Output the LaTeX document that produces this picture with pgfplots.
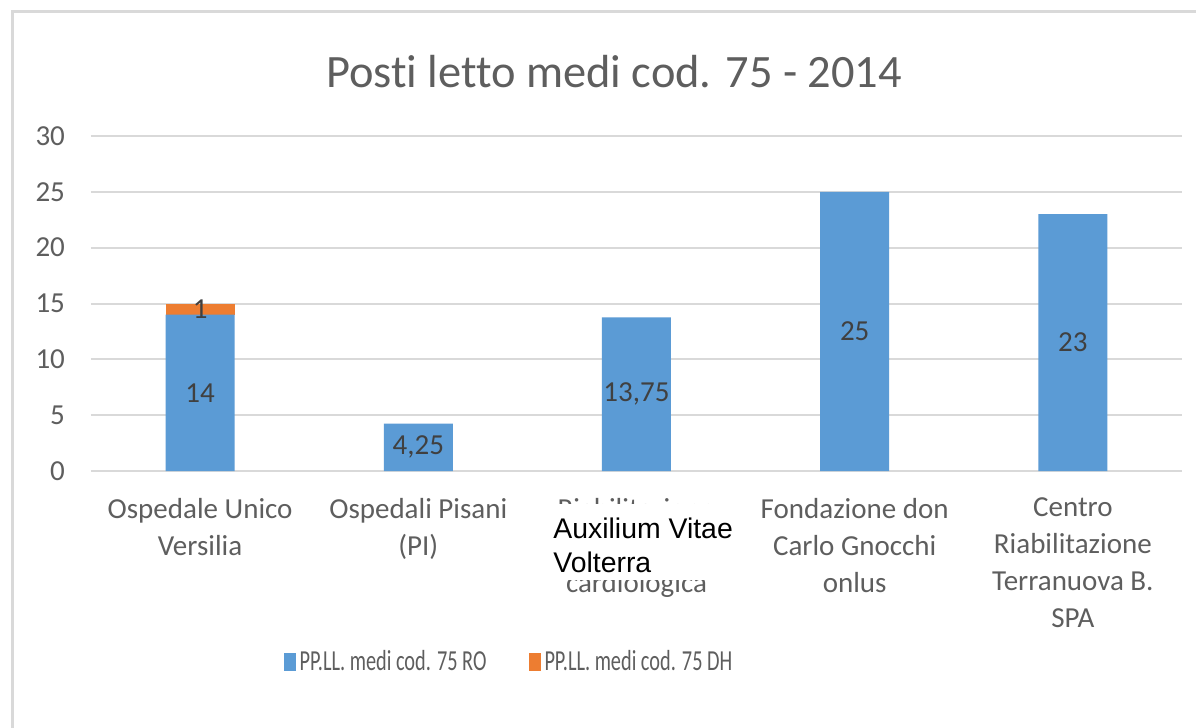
\documentclass[border=0pt]{standalone}
\usepackage{pgfplots}
\pgfplotsset{compat=1.18}
\usepackage{fontspec}
\setmainfont{Carlito}[Ligatures=NoCommon]
\newfontfamily\arial{Liberation Sans}
\definecolor{cblue}{HTML}{5B9BD5}
\definecolor{corange}{HTML}{ED7D31}
\definecolor{cgrid}{HTML}{D9D9D9}
\definecolor{ctext}{HTML}{5E5E5E}
\definecolor{clab}{HTML}{404040}
\begin{document}
\begin{tikzpicture}
\useasboundingbox (0,0) rectangle (598pt,-364pt);
\fill[white] (0,0) rectangle (598pt,-364pt);
\draw[cgrid, line width=1.5pt] (6pt,-370pt) -- (6pt,-5.5pt) -- (600pt,-5.5pt);
\begin{axis}[
  at={(45.5pt,-235.5pt)}, anchor=south west,
  scale only axis, width=545.5pt, height=167.5pt,
  xmin=-0.5, xmax=4.5, ymin=0, ymax=30,
  ytick={0,5,...,30},
  xtick={0,1,2,3,4},
  xticklabels={{Ospedale Unico\\Versilia},{Ospedali Pisani\\(PI)},{Riabilitazione\\\mbox{}\\cardiologica},{Fondazione don\\Carlo Gnocchi\\onlus},{Centro\\Riabilitazione\\Terranuova B.\\SPA}},
  /pgf/number format/assume math mode=true,
  axis line style={draw=none},
  major tick length=0pt,
  ymajorgrids, grid style={cgrid, line width=1pt},
  ytick style={draw=none}, xtick style={draw=none},
  yticklabel style={font=\fontsize{14.5}{17}\selectfont, text=ctext, anchor=east, xshift=-9.5pt},
  xticklabel style={font=\fontsize{14.5}{18.5}\selectfont, text=ctext, align=center, anchor=north, yshift=-10pt},
  ybar stacked, bar width=34.5pt,
  legend style={at={(0.384,-0.570)}, anchor=center, draw=none, fill=none, legend columns=2,
    /tikz/every even column/.append style={column sep=19pt},
    font=\fontsize{14.5}{17}\selectfont, text=ctext},
  legend image code/.code={\fill[#1] (0pt,-4.5pt) rectangle (6pt,4.5pt);},
]
\addplot[fill=cblue, draw=none] coordinates {(0,14) (1,4.25) (2,13.75) (3,25) (4,23)};
\addlegendentry{\scalebox{0.7}[1]{PP.LL. medi cod. 75 RO}}
\addplot[fill=corange, draw=none] coordinates {(0,1) (1,0) (2,0) (3,0) (4,0)};
\addlegendentry{\scalebox{0.7}[1]{PP.LL. medi cod. 75 DH}}
\end{axis}
\begin{axis}[
  at={(45.5pt,-235.5pt)}, anchor=south west,
  scale only axis, width=545.5pt, height=167.5pt,
  xmin=-0.5, xmax=4.5, ymin=0, ymax=30,
  hide axis,
]
\addplot[draw=none, mark=none, nodes near coords, point meta=explicit symbolic,
  every node near coord/.append style={anchor=center, font=\fontsize{14.5}{17}\selectfont, text=clab}]
  coordinates {(0,7) [14] (0,14.5) [1] (1,2.125) [{4,25}] (2,6.875) [{13,75}] (3,12.5) [25] (4,11.5) [23]};
\end{axis}
\node[font=\fontsize{23.2}{27}\selectfont, text=ctext] at (307pt,-36pt) {Posti letto medi cod. 75 - 2014};
\fill[white] (272pt,-252pt) rectangle (368pt,-290pt);
\node[anchor=west, align=left, font=\arial\fontsize{14.2}{17}\selectfont, inner sep=0pt] at (276.5pt,-272.5pt) {Auxilium Vitae\\Volterra};
\end{tikzpicture}
\end{document}
